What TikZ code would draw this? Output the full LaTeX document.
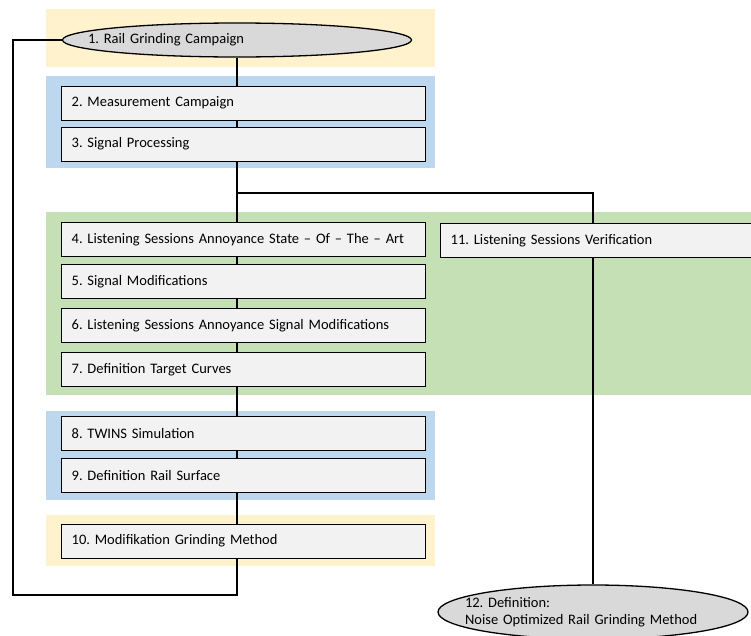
\documentclass[tikz,border=0pt]{standalone}
\usepackage{fontspec}
\setmainfont{Carlito}
\frenchspacing
\usetikzlibrary{shapes.geometric, positioning}
\definecolor{bandyellow}{HTML}{FFF2CC}
\definecolor{bandblue}{HTML}{BDD7EE}
\definecolor{bandgreen}{HTML}{C5E0B4}
\definecolor{boxgray}{HTML}{F2F2F2}
\definecolor{ovalgray}{HTML}{D9D9D9}
\pgfdeclarelayer{bands}
\pgfdeclarelayer{wires}
\pgfsetlayers{bands,wires,main}

\begin{document}
\begin{tikzpicture}[x=1pt, y=-1pt, font=\fontsize{14.5}{17}\selectfont,
  stepbox/.style={draw, line width=1.3pt, fill=boxgray, anchor=north west,
    minimum height=34pt, text width=344pt, inner xsep=10pt, align=left},
  oval/.style={ellipse, draw, line width=1.3pt, fill=ovalgray, align=left},
  wire/.style={line width=1.3pt}]
  \useasboundingbox (0,0) rectangle (751,635);

  % Schritte
  \node[oval, minimum width=349pt, minimum height=34pt, text width=298pt,
    inner xsep=-30pt, inner ysep=0pt] (e1) at (237,40) {1. Rail Grinding Campaign};
  \foreach \n/\y/\t in {b2/85.5/{2. Measurement Campaign},
                        b3/126.5/{3. Signal Processing},
                        b4/222/{4. Listening Sessions Annoyance State – Of – The – Art},
                        b5/264/{5. Signal Modifications},
                        b6/308/{6. Listening Sessions Annoyance Signal Modifications},
                        b7/352/{7. Definition Target Curves},
                        b8/416/{8. TWINS Simulation},
                        b9/458/{9. Definition Rail Surface},
                        b10/523.5/{10. Modifikation Grinding Method}} {
    \node[stepbox] (\n) at (61,\y) {\t};
  }
  \node[stepbox, text width=300pt] (b11) at (440,223) {11. Listening Sessions Verification};
  \node[oval, minimum width=310pt, minimum height=54pt, text width=256pt,
    inner xsep=-20pt, inner ysep=-2pt] (e12) at (593,612)
    {12. Definition:\\ Noise Optimized Rail Grinding Method};

  % Hilfspunkte
  \coordinate (loopbot) at (13,595);
  \coordinate (split) at (237,193);

  % Verbindungen
  \begin{pgfonlayer}{wires}
    \draw[wire] (e1.west) -| (loopbot) -| (e1.south);
    \draw[wire] (split) -| (e12.north);
  \end{pgfonlayer}

  % Farbige Bereiche
  \begin{pgfonlayer}{bands}
    \fill[bandyellow] (46,9) rectangle (435,67);
    \fill[bandblue] (46,76) rectangle (435,168);
    \fill[bandgreen] (46,212) rectangle (751,395);
    \fill[bandblue] (46,411) rectangle (435,500);
    \fill[bandyellow] (46,515) rectangle (435,566);
  \end{pgfonlayer}
\end{tikzpicture}
\end{document}
